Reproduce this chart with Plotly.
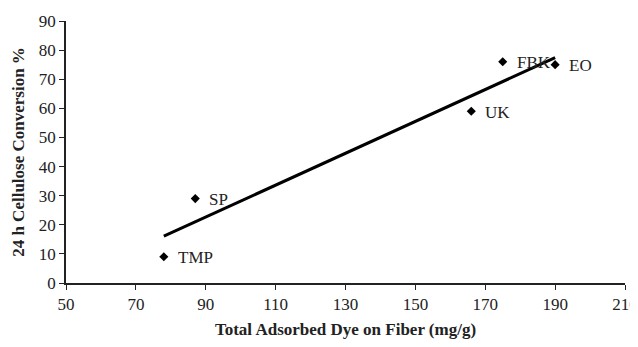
import numpy as np
import plotly.graph_objects as go

samples = ["TMP", "SP", "UK", "FBK", "EO"]
dye = [78, 87, 166, 175, 190]
conversion = [9, 29, 59, 76, 75]

x_ticks = [50, 70, 90, 110, 130, 150, 170, 190, 210]
y_ticks = [0, 10, 20, 30, 40, 50, 60, 70, 80, 90]

slope, intercept = np.polyfit(dye, conversion, 1)
trend_x = [min(dye), max(dye)]
trend_y = [slope * v + intercept for v in trend_x]

font_family = "Liberation Serif, Times New Roman, serif"

fig = go.Figure()
fig.add_trace(go.Scatter(x=trend_x, y=trend_y, mode="lines",
                         line=dict(color="black", width=3), showlegend=False,
                         hoverinfo="skip"))
fig.add_trace(go.Scatter(x=dye, y=conversion, mode="markers",
                         marker=dict(symbol="diamond", size=7, color="black"),
                         showlegend=False))

for s, xv, yv in zip(samples, dye, conversion):
    fig.add_annotation(x=xv, y=yv, text=s, showarrow=False, xanchor="left",
                       yanchor="middle", xshift=12, yshift=-1,
                       font=dict(family=font_family, size=17, color="#222"))

fig.update_layout(
    width=630, height=331,
    margin=dict(l=58, r=13, t=13, b=56, autoexpand=False),
    paper_bgcolor="white", plot_bgcolor="white",
    font=dict(family=font_family, size=17, color="#222"),
)
fig.update_xaxes(range=[50, 210], tickvals=x_ticks, showgrid=False, zeroline=False,
                 showline=True, linecolor="#222", linewidth=1.5, automargin=False,
                 ticks="outside", ticklen=5, tickcolor="#222",
                 tickfont=dict(size=17), ticklabeloverflow="allow",
                 title=dict(text="<b>Total Adsorbed Dye on Fiber (mg/g)</b>",
                            font=dict(size=17), standoff=13))
fig.update_yaxes(range=[0, 90], tickvals=y_ticks, showgrid=False, zeroline=False,
                 showline=True, linecolor="#222", linewidth=1.5, automargin=False,
                 ticks="outside", ticklen=5, tickcolor="#222",
                 tickfont=dict(size=17),
                 title=dict(text="<b>24 h Cellulose Conversion %</b>",
                            font=dict(size=17), standoff=10))

fig.write_html("out.html")
